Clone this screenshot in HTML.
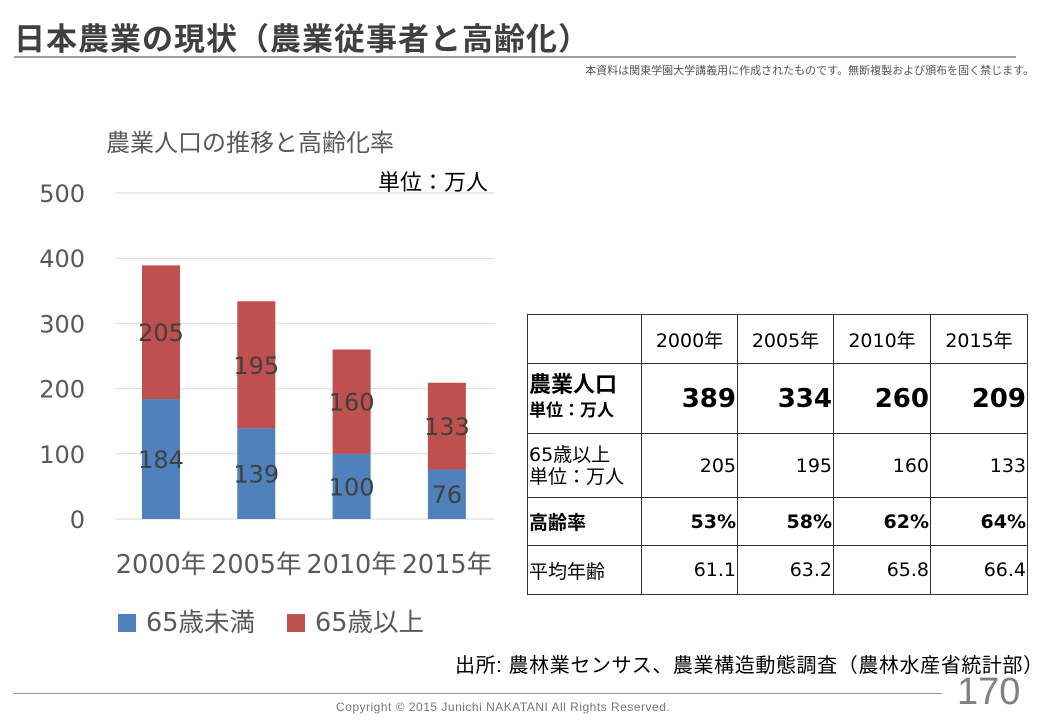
<!DOCTYPE html>
<html><head><meta charset="utf-8"><style>
body{margin:0;width:1040px;height:720px;background:#fff;overflow:hidden;position:relative;font-family:"Liberation Sans","Noto Sans CJK JP",sans-serif}
.abs{position:absolute;white-space:nowrap}
table{position:absolute;left:527px;top:314px;width:500px;table-layout:fixed;border-collapse:collapse;font-family:"DejaVu Sans","Noto Sans CJK JP",sans-serif;color:#000}
td{border:1.5px solid #333;padding:0 1px;font-size:19px;overflow:hidden}
td.n{text-align:right}
</style></head><body>
<div class="abs" style="left:14px;top:14px;font-size:31px;font-weight:bold;color:#404040;letter-spacing:1px">日本農業の現状（農業従事者と高齢化）</div>
<div class="abs" style="left:14px;top:56px;width:1002px;height:2px;background:#a0a0a0"></div>
<div class="abs" style="right:6px;top:62px;font-size:11px;color:#555">本資料は関東学園大学講義用に作成されたものです。無断複製および頒布を固く禁じます。</div>
<div class="abs" style="left:106px;top:123px;font-size:24px;color:#595959">農業人口の推移と高齢化率</div>
<div class="abs" style="left:378px;top:165px;font-size:22px;color:#000">単位：万人</div>
<svg class="abs" style="left:0;top:0" width="520" height="650" id="chart"></svg>
<table>
<colgroup><col style="width:114px"><col style="width:96px"><col style="width:96px"><col style="width:97px"><col style="width:97px"></colgroup>
<tr style="height:49px"><td></td><td style="text-align:center">2000年</td><td style="text-align:center">2005年</td><td style="text-align:center">2010年</td><td style="text-align:center">2015年</td></tr>
<tr style="height:70px"><td style="font-weight:bold;font-size:22px;line-height:24px">農業人口<br><span style="font-size:17px">単位：万人</span></td><td class="n" style="font-weight:bold;font-size:26px">389</td><td class="n" style="font-weight:bold;font-size:26px">334</td><td class="n" style="font-weight:bold;font-size:26px">260</td><td class="n" style="font-weight:bold;font-size:26px">209</td></tr>
<tr style="height:64px"><td style="line-height:22px">65歳以上<br>単位：万人</td><td class="n">205</td><td class="n">195</td><td class="n">160</td><td class="n">133</td></tr>
<tr style="height:48px"><td style="font-weight:bold">高齢率</td><td class="n" style="font-weight:bold">53%</td><td class="n" style="font-weight:bold">58%</td><td class="n" style="font-weight:bold">62%</td><td class="n" style="font-weight:bold">64%</td></tr>
<tr style="height:49px"><td>平均年齢</td><td class="n">61.1</td><td class="n">63.2</td><td class="n">65.8</td><td class="n">66.4</td></tr>
</table>
<div class="abs" style="left:455px;top:649px;font-size:20px;color:#000;letter-spacing:0.6px">出所: 農林業センサス、農業構造動態調査（農林水産省統計部）</div>
<div class="abs" style="left:14px;top:693px;width:928px;height:1px;background:#999"></div>
<div class="abs" style="left:957px;top:671px;font-size:38px;color:#808080">170</div>
<div class="abs" style="left:336px;top:700px;font-size:12px;color:#777;letter-spacing:0.5px">Copyright © 2015 Junichi NAKATANI All Rights Reserved.</div>
<script>
const categories=["2000年","2005年","2010年","2015年"];
const under65=[184,139,100,76];
const over65=[205,195,160,133];
const yTicks=[0,100,200,300,400,500];
const svg=document.getElementById('chart');
const NS='http://www.w3.org/2000/svg';
const y=v=>519-v*0.652;
const x=i=>161+i*95.3;
function mk(t,a,txt){const e=document.createElementNS(NS,t);for(const k in a)e.setAttribute(k,a[k]);if(txt!==undefined)e.textContent=txt;svg.appendChild(e);return e;}
yTicks.forEach(v=>{
 const l=mk('line',{x1:115,x2:495,y1:y(v),y2:y(v),stroke:'#d9d9d9','stroke-width':1});
 
 
 const t=mk('text',{x:85,y:y(v)+9,'text-anchor':'end','font-size':24,fill:'#595959','font-family':'DejaVu Sans, sans-serif'},v);
 
 
});
categories.forEach((c,i)=>{
 const b1=mk('rect',{x:x(i)-19,y:y(under65[i]),width:38,height:y(0)-y(under65[i]),fill:'#4f81bd'});
 
 
 const b2=mk('rect',{x:x(i)-19,y:y(under65[i]+over65[i]),width:38,height:y(under65[i])-y(under65[i]+over65[i]),fill:'#c0504d'});
 
 
 const l1=mk('text',{x:x(i),y:(y(0)+y(under65[i]))/2+9,'text-anchor':'middle','font-size':24,fill:'#404040','font-family':'DejaVu Sans, sans-serif'},under65[i]);
 
 
 const l2=mk('text',{x:x(i),y:(y(under65[i])+y(under65[i]+over65[i]))/2+9,'text-anchor':'middle','font-size':24,fill:'#404040','font-family':'DejaVu Sans, sans-serif'},over65[i]);
 
 
 const ct=mk('text',{x:x(i),y:573,'text-anchor':'middle','font-size':25.5,fill:'#595959','font-family':'DejaVu Sans, Noto Sans CJK JP, sans-serif'},c);
 
 
});
const lg=[["65歳未満","#4f81bd",118],["65歳以上","#c0504d",287]];
lg.forEach((g,i)=>{
 const r=mk('rect',{x:g[2],y:614,width:18,height:18,fill:g[1]});
 
 
 const t=mk('text',{x:g[2]+28,y:631,'font-size':25.5,fill:'#595959','font-family':'DejaVu Sans, Noto Sans CJK JP, sans-serif'},g[0]);
 
 
});
</script>
</body></html>
